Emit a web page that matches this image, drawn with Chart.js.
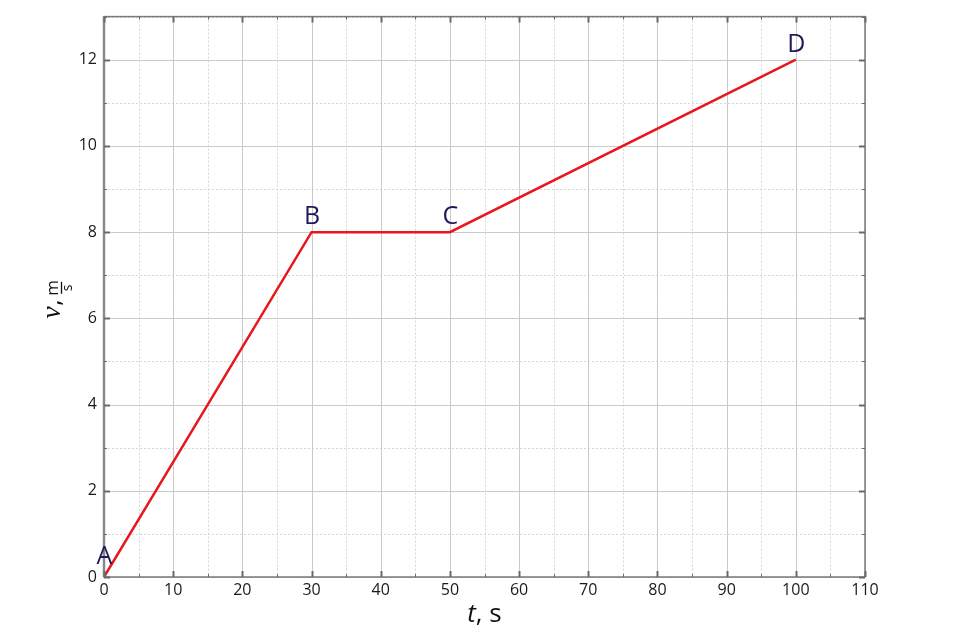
<!DOCTYPE html>
<html lang="en">
<head>
    <meta charset="UTF-8">
    <title>Velocity vs time</title>
    <style>
        body { margin: 0; background: #fff; }
        canvas { display: block; }
    </style>
    <script src="https://cdn.jsdelivr.net/npm/chart.js"></script>
</head>
<body>
    <canvas id="chart" width="960" height="640"></canvas>

    <script>
        // data
        const pointNames = ['A', 'B', 'C', 'D'];
        const timeValues = [0, 30, 50, 100];
        const speedValues = [0, 8, 8, 12];
        const xTicks = [0, 10, 20, 30, 40, 50, 60, 70, 80, 90, 100, 110];
        const yTicks = [0, 2, 4, 6, 8, 10, 12];

        const FONT = '"Open Sans", "Noto Sans", sans-serif';

        // grid, frame with inner ticks, point letters and axis titles
        const decorations = {
            id: 'decorations',
            beforeDatasetsDraw(chart) {
                const { ctx, chartArea: a, scales: { x, y } } = chart;
                ctx.save();
                ctx.lineWidth = 1;
                // minor dotted grid
                ctx.strokeStyle = '#d6d6d6';
                ctx.setLineDash([2, 2]);
                x.ticks.forEach(t => {
                    if (xTicks.includes(t.value)) return;
                    const px = Math.round(x.getPixelForValue(t.value)) + 0.5;
                    ctx.beginPath(); ctx.moveTo(px, a.top); ctx.lineTo(px, a.bottom); ctx.stroke();
                });
                y.ticks.forEach(t => {
                    if (yTicks.includes(t.value)) return;
                    const py = Math.round(y.getPixelForValue(t.value)) + 0.5;
                    ctx.beginPath(); ctx.moveTo(a.left, py); ctx.lineTo(a.right, py); ctx.stroke();
                });
                // major solid grid
                ctx.setLineDash([]);
                ctx.strokeStyle = '#cacaca';
                xTicks.forEach(v => {
                    const px = Math.round(x.getPixelForValue(v)) + 0.5;
                    ctx.beginPath(); ctx.moveTo(px, a.top); ctx.lineTo(px, a.bottom); ctx.stroke();
                });
                yTicks.forEach(v => {
                    const py = Math.round(y.getPixelForValue(v)) + 0.5;
                    ctx.beginPath(); ctx.moveTo(a.left, py); ctx.lineTo(a.right, py); ctx.stroke();
                });
                ctx.restore();
            },
            afterDatasetsDraw(chart) {
                const { ctx, chartArea: a, scales: { x, y } } = chart;
                ctx.save();

                // frame
                ctx.strokeStyle = '#7a7a7a';
                ctx.lineWidth = 1.5;
                ctx.strokeRect(a.left, a.top, a.right - a.left, a.bottom - a.top);
                ctx.lineWidth = 2.5;
                ctx.strokeStyle = '#8a8a8a';
                ctx.beginPath(); ctx.moveTo(a.left, a.top); ctx.lineTo(a.left, a.bottom); ctx.stroke();

                // inner ticks on all four sides
                ctx.strokeStyle = '#6a6a6a';
                x.ticks.forEach(t => {
                    const major = xTicks.includes(t.value);
                    const len = major ? 6 : 3;
                    ctx.lineWidth = major ? 2 : 1;
                    const px = Math.round(x.getPixelForValue(t.value)) + 0.5;
                    ctx.beginPath();
                    ctx.moveTo(px, a.bottom); ctx.lineTo(px, a.bottom - len);
                    ctx.moveTo(px, a.top); ctx.lineTo(px, a.top + len);
                    ctx.stroke();
                });
                y.ticks.forEach(t => {
                    const major = yTicks.includes(t.value);
                    const len = major ? 6 : 3;
                    ctx.lineWidth = major ? 2 : 1;
                    const py = Math.round(y.getPixelForValue(t.value)) + 0.5;
                    ctx.beginPath();
                    ctx.moveTo(a.left, py); ctx.lineTo(a.left + len, py);
                    ctx.moveTo(a.right, py); ctx.lineTo(a.right - len, py);
                    ctx.stroke();
                });

                // point letters
                ctx.fillStyle = '#1e1a5a';
                ctx.font = '25px ' + FONT;
                ctx.textAlign = 'center';
                ctx.textBaseline = 'alphabetic';
                const pts = chart.getDatasetMeta(0).data;
                pts.forEach((p, i) => {
                    const lift = i === 0 ? 13 : 8;
                    ctx.fillText(pointNames[i], p.x + 0.5, p.y - lift);
                });

                // x axis title: "t, s"
                ctx.fillStyle = '#111';
                const cx = (a.left + a.right) / 2;
                const by = 622;
                ctx.textAlign = 'left';
                ctx.font = 'italic 26px ' + FONT;
                const tW = ctx.measureText('t').width;
                ctx.font = '26px ' + FONT;
                const restW = ctx.measureText(', s').width;
                const sx = cx - (tW + restW) / 2;
                ctx.font = 'italic 26px ' + FONT;
                ctx.fillText('t', sx, by);
                ctx.font = '26px ' + FONT;
                ctx.fillText(', s', sx + tW, by);

                // y axis title: "v, m/s" rotated
                const cy = (a.top + a.bottom) / 2;
                ctx.translate(60, cy);
                ctx.rotate(-Math.PI / 2);
                ctx.textAlign = 'left';
                ctx.font = 'italic 28px "Liberation Serif", serif';
                ctx.fillText('v', -22, 0);
                ctx.font = '24px ' + FONT;
                ctx.fillText(',', -9, 0);
                const fx = 9;
                ctx.textAlign = 'center';
                ctx.font = '17px ' + FONT;
                ctx.fillText('m', fx, -2);
                ctx.font = '14px ' + FONT;
                ctx.fillText('s', fx, 11.5);
                ctx.strokeStyle = '#111';
                ctx.lineWidth = 1.3;
                ctx.beginPath();
                ctx.moveTo(fx - 6, 1.5); ctx.lineTo(fx + 6, 1.5);
                ctx.stroke();

                ctx.restore();
            }
        };

        new Chart(document.getElementById('chart'), {
            type: 'line',
            data: {
                datasets: [{
                    data: timeValues.map((t, i) => ({ x: t, y: speedValues[i] })),
                    borderColor: '#e8161e',
                    borderWidth: 2.5,
                    pointRadius: 0,
                    tension: 0,
                    fill: false
                }]
            },
            options: {
                responsive: false,
                animation: false,
                layout: { padding: { top: 15, right: 95, left: 0, bottom: 0 } },
                plugins: {
                    legend: { display: false },
                    tooltip: { enabled: false }
                },
                scales: {
                    x: {
                        type: 'linear',
                        min: 0,
                        max: 110,
                        grid: { display: false, drawTicks: false },
                        border: { display: false },
                        afterFit(scale) { scale.height = 63; },
                        ticks: {
                            stepSize: 5,
                            padding: 4,
                            maxRotation: 0,
                            autoSkip: false,
                            color: '#1a1a1a',
                            font: { family: FONT, size: 16 },
                            callback: v => xTicks.includes(v) ? String(v) : ''
                        }
                    },
                    y: {
                        type: 'linear',
                        min: 0,
                        max: 13,
                        grid: { display: false, drawTicks: false },
                        border: { display: false },
                        afterFit(scale) { scale.width = 104; },
                        ticks: {
                            stepSize: 1,
                            padding: 7,
                            autoSkip: false,
                            color: '#1a1a1a',
                            font: { family: FONT, size: 16 },
                            callback: v => yTicks.includes(v) ? String(v) : ''
                        }
                    }
                }
            },
            plugins: [decorations]
        });
    </script>
</body>
</html>
